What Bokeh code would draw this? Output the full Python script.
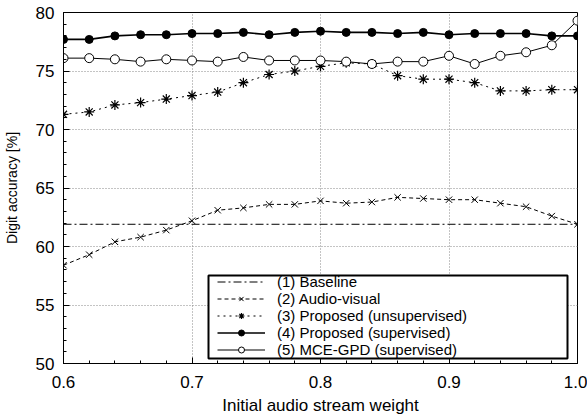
from bokeh.plotting import figure
from bokeh.models import Range1d, Legend, LegendItem, SingleIntervalTicker, BoxAnnotation
from bokeh.embed import file_html
from bokeh.resources import INLINE

weights = [0.60, 0.62, 0.64, 0.66, 0.68, 0.70, 0.72, 0.74, 0.76, 0.78, 0.80,
           0.82, 0.84, 0.86, 0.88, 0.90, 0.92, 0.94, 0.96, 0.98, 1.00]
baseline_x = [0.60, 1.00]
baseline = [61.9, 61.9]
audio_visual = [58.4, 59.3, 60.4, 60.8, 61.4, 62.2, 63.1, 63.3, 63.6, 63.6, 63.9,
                63.7, 63.8, 64.2, 64.1, 64.0, 64.0, 63.7, 63.4, 62.6, 61.9]
proposed_unsup = [71.3, 71.5, 72.1, 72.3, 72.6, 72.9, 73.2, 74.0, 74.7, 75.0, 75.4,
                  75.7, 75.6, 74.6, 74.3, 74.3, 74.0, 73.3, 73.3, 73.4, 73.4]
proposed_sup = [77.7, 77.7, 78.0, 78.1, 78.1, 78.2, 78.2, 78.3, 78.1, 78.3, 78.4,
                78.3, 78.3, 78.2, 78.3, 78.1, 78.2, 78.2, 78.2, 78.0, 78.0]
mce_gpd = [76.1, 76.1, 76.0, 75.8, 76.0, 75.9, 75.8, 76.2, 75.9, 75.9, 75.9,
           75.8, 75.6, 75.8, 75.8, 76.3, 75.6, 76.3, 76.6, 77.2, 79.3]
labels = ["(1) Baseline", "(2) Audio-visual", "(3) Proposed (unsupervised)",
          "(4) Proposed (supervised)", "(5) MCE-GPD (supervised)"]
x_lo, x_hi = 0.6, 1.0
y_lo, y_hi = 50, 80

FONT = "Liberation Sans"
FRAME_W, FRAME_H = 514, 351
BL, BT, BR, BB = 63, 12, 10, 57

p = figure(width=BL + FRAME_W + BR, height=BT + FRAME_H + BB, output_backend="svg",
           toolbar_location=None, x_range=Range1d(x_lo, x_hi), y_range=Range1d(y_lo, y_hi),
           min_border_left=BL, min_border_right=BR, min_border_top=BT, min_border_bottom=BB)
p.background_fill_color = "white"
p.outline_line_color = "black"
p.outline_line_width = 1

p.xaxis.ticker = SingleIntervalTicker(interval=0.1, num_minor_ticks=5)
p.yaxis.ticker = SingleIntervalTicker(interval=5, num_minor_ticks=5)
p.xaxis.major_label_overrides = {0.6: "0.6", 0.7: "0.7", 0.8: "0.8", 0.9: "0.9", 1.0: "1.0"}

for ax in (p.xaxis[0], p.yaxis[0]):
    ax.axis_line_color = "black"
    ax.major_tick_in = 6
    ax.major_tick_out = 0
    ax.minor_tick_in = 3
    ax.minor_tick_out = 0
    ax.major_tick_line_color = "black"
    ax.minor_tick_line_color = "black"
    ax.major_label_text_font = FONT
    ax.major_label_text_font_size = "17px"
    ax.major_label_text_color = "black"
    ax.axis_label_text_font = FONT
    ax.axis_label_text_font_style = "normal"
    ax.axis_label_text_color = "black"

p.xaxis.axis_label = "Initial audio stream weight"
p.yaxis.axis_label = "Digit accuracy [%]"
p.xaxis.axis_label_text_font_size = "17px"
p.yaxis.axis_label_text_font_size = "14px"
p.xaxis.major_label_standoff = 12
p.yaxis.major_label_standoff = 9
p.xaxis.axis_label_standoff = 5
p.yaxis.axis_label_standoff = 13

for g in (p.xgrid[0], p.ygrid[0]):
    g.grid_line_color = "#888888"
    g.grid_line_dash = "1 2"
    g.grid_line_width = 1

r1 = p.line(baseline_x, baseline, line_color="black", line_width=1, line_dash="8 3 2 3")
r2l = p.line(weights, audio_visual, line_color="black", line_width=1, line_dash="4 3")
r2m = p.scatter(weights, audio_visual, marker="x", size=9, line_color="black", line_width=1)
r3l = p.line(weights, proposed_unsup, line_color="black", line_width=1, line_dash="2 4")
r3m = p.scatter(weights, proposed_unsup, marker="asterisk", size=10, line_color="black", line_width=1.2)
r4l = p.line(weights, proposed_sup, line_color="black", line_width=1.6)
r4m = p.scatter(weights, proposed_sup, marker="circle", size=8, fill_color="black", line_color="black")
r5l = p.line(weights, mce_gpd, line_color="black", line_width=1)
r5m = p.scatter(weights, mce_gpd, marker="circle", size=9, fill_color="white", line_color="black", line_width=1)

# legend frame: pixel offsets inside the plot frame converted to data units
def px_x(px):
    return x_lo + px / FRAME_W * (x_hi - x_lo)

def px_y(px):
    return y_lo + px / FRAME_H * (y_hi - y_lo)

box = BoxAnnotation(left=px_x(145), right=px_x(504), bottom=px_y(5), top=px_y(88),
                    fill_color="white", fill_alpha=1,
                    line_color="black", line_width=2, line_alpha=1, level="annotation")
p.add_layout(box, "center")

legend = Legend(items=[
    LegendItem(label=labels[0], renderers=[r1]),
    LegendItem(label=labels[1], renderers=[r2l, r2m]),
    LegendItem(label=labels[2], renderers=[r3l, r3m]),
    LegendItem(label=labels[3], renderers=[r4l, r4m]),
    LegendItem(label=labels[4], renderers=[r5l, r5m]),
], location=(151, 2))
legend.label_text_font = FONT
legend.label_text_font_size = "15px"
legend.label_text_color = "black"
legend.glyph_width = 48
legend.glyph_height = 15
legend.label_height = 15
legend.label_standoff = 12
legend.padding = 3
legend.spacing = 0
legend.margin = 0
legend.border_line_alpha = 0
legend.background_fill_alpha = 0
p.add_layout(legend, "center")

open("out.html", "w").write(file_html(p, INLINE))
